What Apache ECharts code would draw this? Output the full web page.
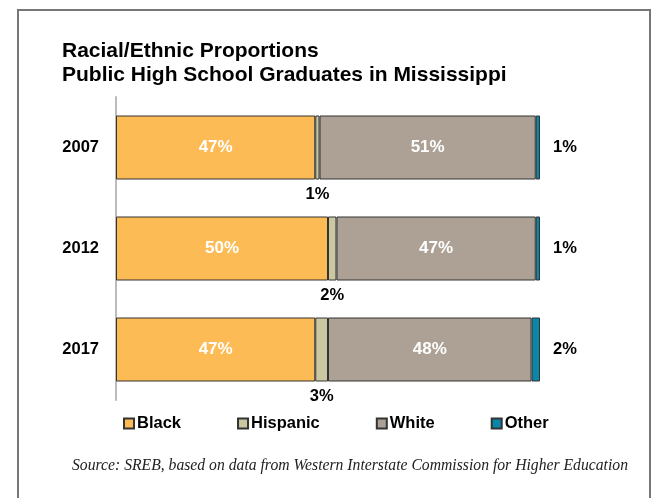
<!DOCTYPE html>
<html>
<head>
<meta charset="utf-8">
<script src="https://cdn.jsdelivr.net/npm/echarts@6/dist/echarts.min.js"></script>
<style>html,body{margin:0;padding:0;background:#fff}#c{width:652px;height:498px}</style>
</head>
<body>
<div id="c"></div>
<script>
var years = ['2007', '2012', '2017'];
var black = [47, 50, 47];
var hispanic = [1, 2, 3];
var white = [51, 47, 48];
var other = [1, 1, 2];
var seriesNames = ['Black', 'Hispanic', 'White', 'Other'];
var colors = ['#FDBB56', '#CBC7A3', '#ACA194', '#0A86A8'];

var chart = echarts.init(document.getElementById('c'), null, {renderer: 'canvas'});
var font = '"Liberation Sans", Arial, sans-serif';
function pct(p) { return p.value + '%'; }
function mk(name, data, color, label) {
  return {
    name: name, type: 'bar', stack: 'total', data: data, barWidth: 64,
    itemStyle: {color: color, borderColor: '#333', borderWidth: 1},
    label: label
  };
}
chart.setOption({
  animation: false,
  title: {
    text: 'Racial/Ethnic Proportions\nPublic High School Graduates in Mississippi',
    left: 57, top: 34,
    textStyle: {fontFamily: font, fontSize: 21, fontWeight: 'bold', color: '#000', lineHeight: 24}
  },
  legend: {
    data: seriesNames, left: 118, top: 410, itemGap: 56, itemWidth: 10, itemHeight: 10,
    icon: 'rect',
    textStyle: {fontFamily: font, fontSize: 16.5, fontWeight: 'bold', color: '#000', padding: [0, 0, 0, -2]}
  },
  grid: {left: 116, right: 112, top: 97, bottom: 98},
  xAxis: {type: 'value', min: 0, max: 100, show: false},
  yAxis: {
    type: 'category', data: years, inverse: true,
    axisLine: {lineStyle: {color: '#BBB', width: 2}},
    axisTick: {show: false},
    axisLabel: {fontFamily: font, fontSize: 16.5, fontWeight: 'bold', color: '#000', margin: 17}
  },
  series: [
    mk('Black', black, colors[0], {show: true, position: 'inside', formatter: pct, color: '#fff', fontFamily: font, fontSize: 17, fontWeight: 'bold'}),
    mk('Hispanic', hispanic, colors[1], {show: true, position: 'bottom', distance: 6, formatter: pct, color: '#000', fontFamily: font, fontSize: 16.5, fontWeight: 'bold'}),
    mk('White', white, colors[2], {show: true, position: 'inside', formatter: pct, color: '#fff', fontFamily: font, fontSize: 17, fontWeight: 'bold'}),
    mk('Other', other, colors[3], {show: true, position: 'right', distance: 13, formatter: pct, color: '#000', fontFamily: font, fontSize: 16.5, fontWeight: 'bold'})
  ],
  graphic: [
    {type: 'rect', shape: {x: 18, y: 10, width: 632, height: 600}, style: {fill: 'none', stroke: '#777', lineWidth: 2}, silent: true},
    {type: 'text', left: 72, top: 458, style: {text: 'Source: SREB, based on data from Western Interstate Commission for Higher Education', font: 'italic 15.7px "Liberation Serif", "Times New Roman", serif', fill: '#222'}}
  ]
});
</script>
</body>
</html>
